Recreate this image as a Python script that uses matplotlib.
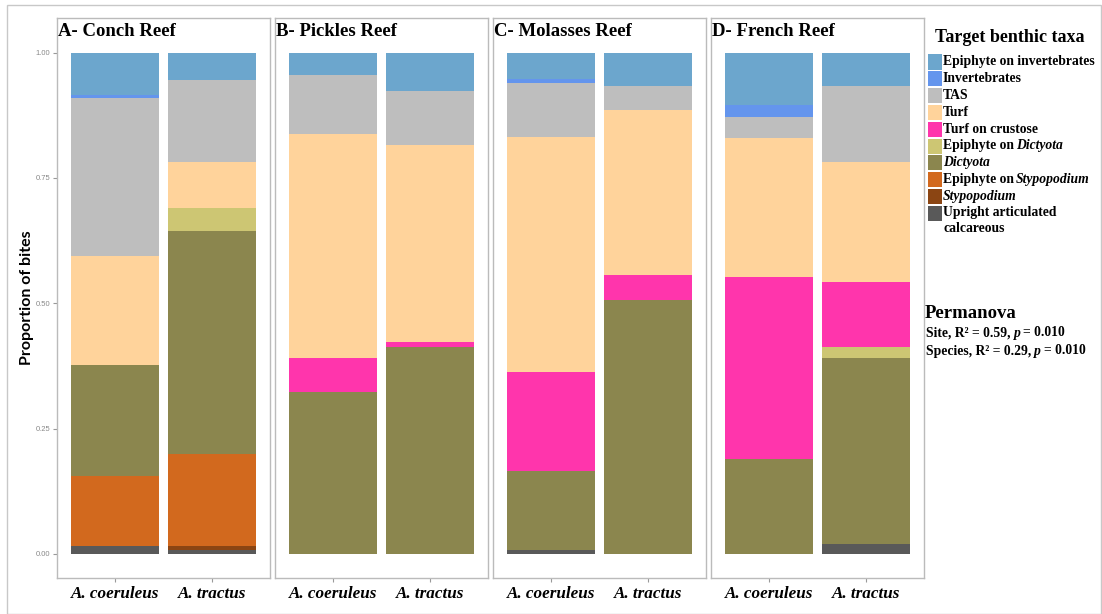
import matplotlib.pyplot as plt
import numpy as np
from matplotlib.patches import Rectangle

W, H = 1102, 614

# reefs and fish species
reefs = ['A- Conch Reef', 'B- Pickles Reef', 'C- Molasses Reef', 'D- French Reef']
species = ['A. coeruleus', 'A. tractus']

# proportion of bites per taxon, columns: A coer, A trac, B coer, B trac, C coer, C trac, D coer, D trac
upright = [0.016, 0.008, 0.0, 0.0, 0.008, 0.0, 0.0, 0.020]
stypopodium = [0.0, 0.008, 0.0, 0.0, 0.0, 0.0, 0.0, 0.0]
epi_stypopodium = [0.139, 0.183, 0.0, 0.0, 0.0, 0.0, 0.0, 0.0]
dictyota = [0.221, 0.446, 0.324, 0.412, 0.158, 0.506, 0.190, 0.371]
epi_dictyota = [0.0, 0.045, 0.0, 0.0, 0.0, 0.0, 0.0, 0.021]
turf_crustose = [0.0, 0.0, 0.067, 0.011, 0.196, 0.051, 0.362, 0.131]
turf = [0.219, 0.091, 0.446, 0.392, 0.470, 0.328, 0.278, 0.239]
tas = [0.314, 0.164, 0.118, 0.108, 0.108, 0.049, 0.042, 0.152]
invertebrates = [0.006, 0.0, 0.0, 0.0, 0.008, 0.0, 0.023, 0.0]
epi_invertebrates = [0.085, 0.055, 0.045, 0.077, 0.052, 0.066, 0.105, 0.066]

# stacking order, bottom to top
layers = [upright, stypopodium, epi_stypopodium, dictyota, epi_dictyota,
          turf_crustose, turf, tas, invertebrates, epi_invertebrates]
colors = ['#595959', '#8B4513', '#D2691E', '#8B864E', '#CDC673',
          '#FF35AC', '#FFD39B', '#BEBEBE', '#6495ED', '#6CA6CD']
# legend labels as (text, italic) pieces, top to bottom
legend_labels = [
    [('Epiphyte on invertebrates', False)],
    [('Invertebrates', False)],
    [('TAS', False)],
    [('Turf', False)],
    [('Turf on crustose', False)],
    [('Epiphyte on', False), ('Dictyota', True)],
    [('Dictyota', True)],
    [('Epiphyte on', False), ('Stypopodium', True)],
    [('Stypopodium', True)],
    [('Upright articulated\ncalcareous', False)],
]

serif = 'Liberation Serif'
fig = plt.figure(figsize=(W / 100, H / 100), dpi=100)


def px(x0, y0, w, h):
    return [x0 / W, 1 - (y0 + h) / H, w / W, h / H]


# outer frame
fig.patches.append(Rectangle((7 / W, 0), 1094 / W, 1 - 5 / H, transform=fig.transFigure,
                             fill=False, edgecolor='#C8C8C8', lw=1))

lefts = [57, 275, 493, 711]
x = np.arange(1, 3)
for i, reef in enumerate(reefs):
    ax = fig.add_axes(px(lefts[i], 18, 213, 560))
    bottom = np.zeros(2)
    for vals, col in zip(layers, colors):
        v = np.array(vals[2 * i:2 * i + 2])
        ax.bar(x, v, width=0.9, bottom=bottom, color=col, linewidth=0)
        bottom += v
    ax.set_xlim(0.41, 2.59)
    ax.set_ylim(-0.048, 1.069)
    ax.set_xticks(x)
    ax.set_xticklabels(species, family=serif, weight='bold', style='italic', fontsize=12.3)
    ax.tick_params(axis='x', length=3, color='#999999', pad=2.5)
    if i == 0:
        ax.set_yticks([0, 0.25, 0.5, 0.75, 1.0])
        ax.set_yticklabels(['0.00', '0.25', '0.50', '0.75', '1.00'],
                           fontsize=5.5, color='#888888', family='Liberation Sans')
        ax.tick_params(axis='y', length=3, color='#999999', pad=2)
    else:
        ax.set_yticks([])
    for s in ax.spines.values():
        s.set_color('#BBBBBB')
        s.set_linewidth(1.0)
    ax.text(0.005, 1 - 4.5 / 560, reef, transform=ax.transAxes, ha='left', va='top',
            family=serif, weight='bold', fontsize=13.5)

fig.text(27 / W, 1 - 298 / H, 'Proportion of bites', rotation=90, ha='center', va='center',
         family='Lato', weight='bold', fontsize=11.5)

renderer = fig.canvas.get_renderer()


def rich_text(x0, y0, pieces, size, gap=3.0):
    # draw text pieces left to right, pixel coordinates from the top-left
    xc = x0
    for txt, ital in pieces:
        t = fig.text(xc / W, 1 - y0 / H, txt, ha='left', va='center', family=serif,
                     weight='bold', style='italic' if ital else 'normal', fontsize=size)
        bb = t.get_window_extent(renderer)
        xc += bb.width + gap
    return xc


# legend
fig.text(1010 / W, 1 - 37 / H, 'Target benthic taxa', ha='center', va='center',
         family=serif, weight='bold', fontsize=13)
row_y = 62
for col, pieces in zip(colors[::-1], legend_labels):
    fig.patches.append(Rectangle((928 / W, 1 - (row_y + 7.5) / H), 14 / W, 15 / H,
                                 transform=fig.transFigure, color=col, lw=0))
    if '\n' in pieces[0][0]:
        fig.text(943 / W, 1 - (row_y - 7.5) / H, pieces[0][0], ha='left', va='top',
                 family=serif, weight='bold', fontsize=9.8, linespacing=1.3)
    else:
        rich_text(943, row_y, pieces, 9.8, gap=2.0)
    row_y += 16.8

fig.text(925 / W, 1 - 313 / H, 'Permanova', ha='left', va='center',
         family=serif, weight='bold', fontsize=13.5)
rich_text(926, 333, [('Site, R² = 0.59,', False), ('p', True), ('= 0.010', False)], 9.8, gap=3.0)
rich_text(926, 351, [('Species, R² = 0.29,', False), ('p', True), ('= 0.010', False)], 9.8, gap=3.0)

fig.savefig('out.png', dpi=100)
